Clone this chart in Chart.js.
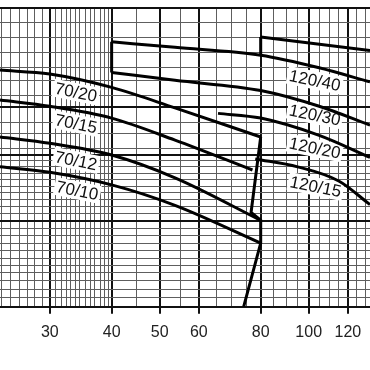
<!DOCTYPE html>
<html>
<head>
<meta charset="utf-8">
<script src="https://cdn.jsdelivr.net/npm/chart.js@4/dist/chart.umd.min.js"></script>
<style>
  html, body { margin: 0; padding: 0; background: #fff; }
  #wrap { width: 370px; height: 370px; }
</style>
</head>
<body>
<div id="wrap"><canvas id="pumpChart"></canvas></div>
<script>
// Achsen
const xTickLabels = [30, 40, 50, 60, 80, 100, 120];
const xGridValues = [24, 25, 26, 27, 28, 29, 30, 30.8, 31.7, 32.4, 33.1, 33.8, 34.5, 35.4,
    36.2, 37, 37.9, 38.7, 39.4, 40, 45, 50, 55, 60, 65, 70, 75, 80, 85, 90, 95, 100, 105,
    110, 115, 120, 125, 130];
const yGridValues = [0, 1.2, 2.2, 3.3, 4.3, 5.2, 6.2, 7.1, 8.1, 9.1, 10, 10.9, 11.9, 12.7,
    13.7, 14.5, 15.3, 16.2, 17, 17.8, 18.6, 19.3, 20.1, 22, 23.4, 25.4, 26.9, 28.8, 30.4,
    32.3, 34.2, 36.1, 38];
const yBoldValues = [0, 10.9, 19.3, 25.4, 38];

// Kennlinien 70er Reihe
const flow70 = [23.8, 30, 40, 53.7, 80];
const head7020 = [30.1, 29.6, 27.9, 25.3, 21.6];
const flow7015 = [23.8, 30, 40, 53.7, 77];
const head7015 = [26.3, 25.5, 24.0, 21.2, 17.4];
const head7012 = [21.6, 20.8, 19.3, 16.4, 11.0];
const head7010 = [17.8, 17.1, 15.5, 12.9, 8.1];

// Kennlinien 120er Reihe
const flowTop = [80, 133];
const headTop = [34.3, 32.6];
const flow12040 = [40, 53.7, 80, 105, 133];
const head12040 = [33.7, 33.0, 32.0, 30.4, 28.6];
const flow12030 = [40, 53.7, 80, 105, 133];
const head12030 = [29.8, 28.8, 27.5, 25.5, 23.1];
const flow12020 = [65.6, 80, 105, 133];
const head12020 = [24.6, 24.0, 21.8, 19.0];
const flow12015 = [78, 95, 115, 133];
const head12015 = [18.8, 17.8, 16.0, 13.0];

// Grenzlinien
const flowStep40 = [40, 40];
const headStep40 = [33.7, 29.8];
const flowStep80 = [80, 80];
const headStep80 = [34.3, 32.0];
const flowEnd70 = [80, 76.5, 80, 80, 73.9];
const headEnd70 = [21.6, 12.0, 11.0, 8.1, 0];

// Beschriftungen
const curveNames = ['70/20', '70/15', '70/12', '70/10', '120/40', '120/30', '120/20', '120/15'];
const nameFlow = [33.9, 33.9, 33.9, 34.1, 102.9, 102.9, 102.9, 103.3];
const nameHead = [27.3, 23.3, 18.6, 14.8, 28.8, 24.4, 20.2, 15.3];

function pts(xs, ys) {
    return xs.map((x, i) => ({ x: x, y: ys[i] }));
}

function curve(xs, ys, smooth) {
    return {
        data: pts(xs, ys),
        borderColor: '#000',
        borderWidth: 3,
        pointRadius: 0,
        fill: false,
        tension: smooth ? 0.4 : 0,
        cubicInterpolationMode: smooth ? 'monotone' : 'default'
    };
}

// Kurvennamen mit weissem Hintergrund
const namePlugin = {
    id: 'curveNames',
    beforeDatasetsDraw(chart) {
        const c = chart.ctx;
        const xs = chart.scales.x, ys = chart.scales.y;
        c.save();
        c.font = '17px "Liberation Sans", Arial, sans-serif';
        c.textAlign = 'center';
        c.textBaseline = 'middle';
        curveNames.forEach((name, i) => {
            const px = xs.getPixelForValue(nameFlow[i]);
            const py = ys.getPixelForValue(nameHead[i]);
            const w = c.measureText(name).width;
            c.save();
            c.translate(px, py);
            c.rotate(0.2);
            c.fillStyle = '#fff';
            c.fillRect(-w / 2 - 2, -9, w + 4, 18);
            c.fillStyle = '#111';
            c.fillText(name, 0, 1);
            c.restore();
        });
        c.restore();
    }
};

const ctx = document.getElementById('pumpChart').getContext('2d');
const pumpChart = new Chart(ctx, {
    type: 'line',
    data: {
        datasets: [
            curve(flow70, head7020, true),
            curve(flow7015, head7015, true),
            curve(flow70, head7012, true),
            curve(flow70, head7010, true),
            curve(flowTop, headTop, true),
            curve(flow12040, head12040, true),
            curve(flow12030, head12030, true),
            curve(flow12020, head12020, true),
            curve(flow12015, head12015, true),
            curve(flowStep40, headStep40, false),
            curve(flowStep80, headStep80, false),
            curve(flowEnd70, headEnd70, false)
        ]
    },
    options: {
        responsive: true,
        maintainAspectRatio: false,
        animation: false,
        layout: { padding: { top: 8, bottom: 19, left: 0, right: 0 } },
        plugins: { legend: { display: false }, tooltip: { enabled: false } },
        scales: {
            x: {
                type: 'logarithmic',
                min: 23.8,
                max: 133,
                afterBuildTicks: axis => { axis.ticks = xGridValues.map(v => ({ value: v })); },
                afterFit: axis => { axis.paddingLeft = 0; axis.paddingRight = 0; },
                ticks: {
                    autoSkip: false,
                    maxRotation: 0,
                    padding: 9,
                    color: '#222',
                    font: { family: '"Liberation Sans", Arial, sans-serif', size: 16 },
                    callback: v => xTickLabels.includes(v) ? String(v) : ''
                },
                grid: {
                    color: c => xTickLabels.includes(c.tick.value) ? '#111' : '#5e5e5e',
                    lineWidth: c => xTickLabels.includes(c.tick.value) ? 2 : 1,
                    tickLength: 7,
                    tickColor: c => xTickLabels.includes(c.tick.value) ? '#111' : 'rgba(0,0,0,0)',
                    tickWidth: 2
                },
                border: { display: true, color: '#111', width: 2 }
            },
            y: {
                type: 'linear',
                min: 0,
                max: 38,
                afterBuildTicks: axis => { axis.ticks = yGridValues.map(v => ({ value: v })); },
                afterFit: axis => { axis.width = 0; },
                ticks: { display: false },
                grid: {
                    drawTicks: false,
                    color: c => yBoldValues.includes(c.tick.value) ? '#111' : '#5e5e5e',
                    lineWidth: c => yBoldValues.includes(c.tick.value) ? 2 : 1
                },
                border: { display: false }
            }
        }
    },
    plugins: [namePlugin]
});
</script>
</body>
</html>
